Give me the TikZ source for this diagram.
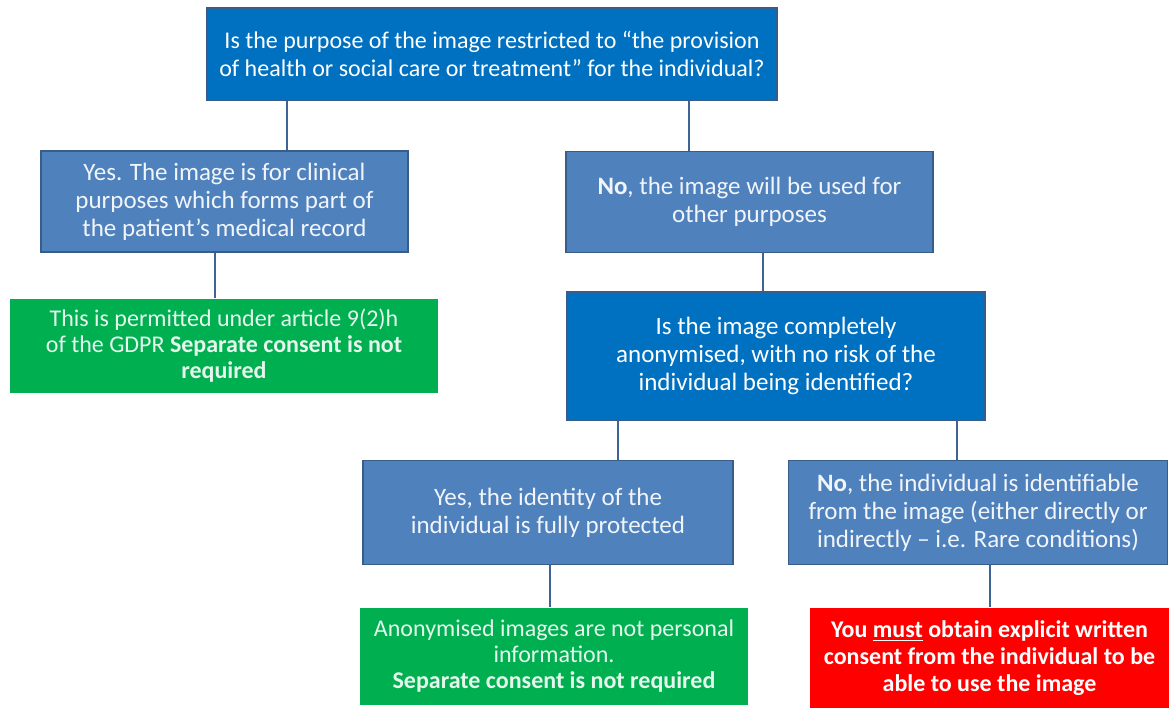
\documentclass[tikz,border=0pt]{standalone}
\usepackage{fontspec}
\setmainfont{Carlito}
\usepackage{xcolor}
\definecolor{qblue}{RGB}{0,112,192}
\definecolor{ablue}{RGB}{79,129,189}
\definecolor{edgeblue}{RGB}{56,93,138}
\definecolor{okgreen}{RGB}{0,176,80}
\definecolor{stopred}{RGB}{255,0,0}
\begin{document}
\begin{tikzpicture}[x=0.5pt,y=-0.5pt,
    box/.style={draw=edgeblue,line width=0.8pt,align=center,text=white,inner sep=2pt,
      font=\fontsize{12.5}{14}\selectfont},
    question/.style={box,fill=qblue},
    answer/.style={box,fill=ablue,text=white!92!ablue},
    verdict/.style={box,draw=none,text=white!90!okgreen,font=\fontsize{12}{13}\selectfont},
    link/.style={draw=edgeblue!80!ablue,line width=1.1pt}]
    \useasboundingbox (0,0) rectangle (1169,708);
    \node[question,font=\fontsize{12}{14}\selectfont,minimum width=570*0.5pt,minimum height=92*0.5pt] (purpose) at (492,54)
      {Is the purpose of the image restricted to ``the provision\\
       of health or social care or treatment''\ for the individual?};
    \node[answer,minimum width=367*0.5pt,minimum height=101*0.5pt] (clinical) at (224.5,201.5)
      {Yes. The image is for clinical\\ purposes\ which forms part of\\ the patient’s medical\ record};
    \node[answer,minimum width=367*0.5pt,minimum height=101*0.5pt] (other) at (749.5,202)
      {\textbf{No}, the image will be used for\\ other purposes};
    \node[verdict,fill=okgreen,minimum width=428*0.5pt,minimum height=94*0.5pt] (permitted) at (224,345.5)
      {This is permitted under article 9(2)h\\ of the GDPR \textbf{Separate consent is not}\\ \textbf{required}};
    \node[question,minimum width=418*0.5pt,minimum height=128*0.5pt] (anonymous) at (776,356)
      {Is the image completely\\ anonymised,\ with no risk of the\\ individual\ being\ identified?};
    \node[answer,minimum width=370*0.5pt,minimum height=104*0.5pt] (protected) at (548,512.5)
      {Yes, the identity of the\\ individual\ is fully protected};
    \node[answer,minimum width=379*0.5pt,minimum height=104*0.5pt] (identifiable) at (978,512.5)
      {\textbf{No}, the individual\ is identifiable\\ from the image (either directly or\\ indirectly -- i.e. Rare conditions)};
    \node[verdict,fill=okgreen,minimum width=388*0.5pt,minimum height=97*0.5pt] (notpersonal) at (554,656.5)
      {Anonymised images are not personal\\ information.\\ \textbf{Separate consent is not required}};
    \node[verdict,fill=stopred,text=white,font=\fontsize{12}{13.5}\selectfont\bfseries,
      minimum width=359*0.5pt,minimum height=100*0.5pt] (consent) at (989.5,658)
      {You \underline{must} obtain explicit written\\ consent from the individual to be\\ able to use the image};
    \coordinate (x1) at (287,0);
    \coordinate (x2) at (689,0);
    \coordinate (x3) at (215,0);
    \coordinate (x4) at (763,0);
    \coordinate (x5) at (618,0);
    \coordinate (x6) at (957,0);
    \coordinate (x7) at (550,0);
    \coordinate (x8) at (990,0);
    \draw[link] (purpose.south -| x1) -- (clinical.north -| x1);
    \draw[link] (purpose.south -| x2) -- (other.north -| x2);
    \draw[link] (clinical.south -| x3) -- (permitted.north -| x3);
    \draw[link] (other.south -| x4) -- (anonymous.north -| x4);
    \draw[link] (anonymous.south -| x5) -- (protected.north -| x5);
    \draw[link] (anonymous.south -| x6) -- (identifiable.north -| x6);
    \draw[link] (protected.south -| x7) -- (notpersonal.north -| x7);
    \draw[link] (identifiable.south -| x8) -- (consent.north -| x8);
\end{tikzpicture}
\end{document}
